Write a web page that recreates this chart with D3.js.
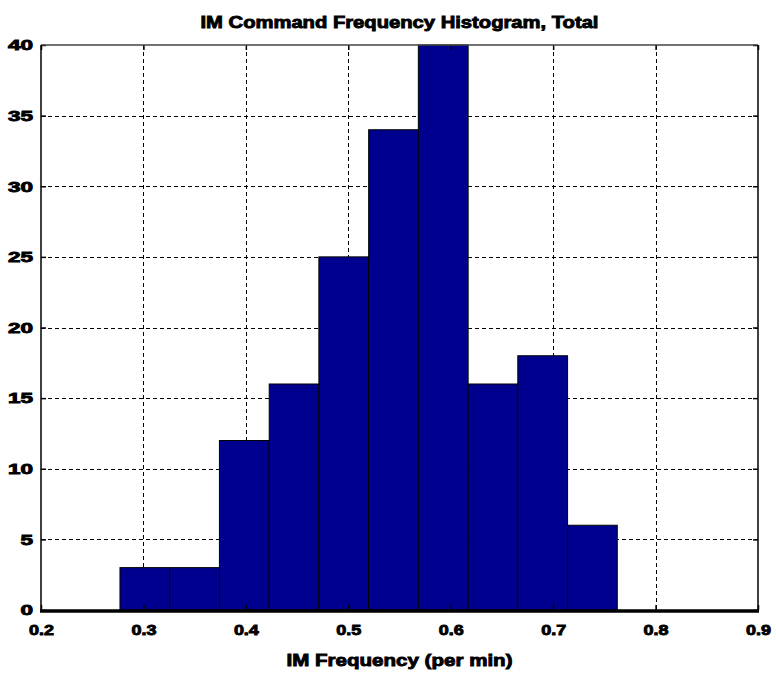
<!DOCTYPE html>
<html>
<head>
<meta charset="utf-8">
<script src="https://cdn.jsdelivr.net/npm/d3@7"></script>
<style>
  html, body { margin: 0; padding: 0; background: #fff; }
  svg text { font-family: "Liberation Sans", Arial, Helvetica, sans-serif; font-weight: bold; fill: #000;
             stroke: #000; stroke-width: 0.9px; }
</style>
</head>
<body>
<svg id="chart" width="776" height="675"></svg>
<script>
// Histogram bin edges (per-minute frequency) and the count in each bin
const binEdges = [0.2771, 0.3257, 0.3742, 0.4228, 0.4713, 0.5199, 0.5684, 0.6170, 0.6655, 0.7141, 0.7626];
const counts   = [3, 3, 12, 16, 25, 34, 40, 16, 18, 6];
const xTicks   = [0.2, 0.3, 0.4, 0.5, 0.6, 0.7, 0.8, 0.9];
const yTicks   = [0, 5, 10, 15, 20, 25, 30, 35, 40];
const titleText = "IM Command Frequency Histogram, Total";
const xLabelText = "IM Frequency (per min)";

const bins = counts.map((c, i) => ({ x0: binEdges[i], x1: binEdges[i + 1], count: c }));

const margin = { left: 41, right: 18, top: 45, bottom: 65 };
const W = 776, H = 675;
const svg = d3.select("#chart");

const x = d3.scaleLinear().domain([0.2, 0.9]).range([margin.left, W - margin.right]);
const y = d3.scaleLinear().domain([0, 40]).range([H - margin.bottom, margin.top]);

// dashed grid
const grid = svg.append("g").attr("stroke", "#000").attr("stroke-width", 1).attr("stroke-dasharray", "4,3");
grid.selectAll("line.v").data(xTicks.slice(1, -1)).join("line")
  .attr("x1", d => Math.round(x(d)) + 0.5).attr("x2", d => Math.round(x(d)) + 0.5)
  .attr("y1", y(40)).attr("y2", y(0));
grid.selectAll("line.h").data(yTicks.slice(1, -1)).join("line")
  .attr("x1", x(0.2)).attr("x2", x(0.9))
  .attr("y1", d => Math.round(y(d)) + 0.5).attr("y2", d => Math.round(y(d)) + 0.5);

// bars
svg.append("g").selectAll("rect").data(bins).join("rect")
  .attr("x", d => x(d.x0)).attr("width", d => x(d.x1) - x(d.x0))
  .attr("y", d => y(d.count)).attr("height", d => y(0) - y(d.count))
  .attr("fill", "#00008f").attr("stroke", "#000").attr("stroke-width", 1);

// axes (ticks point inward, as a boxed plot)
const tickLen = 5;
const xAxis = d3.axisBottom(x).tickValues(xTicks).tickSize(-tickLen).tickPadding(14).tickFormat(d3.format(".1f"));
const yAxis = d3.axisLeft(y).tickValues(yTicks).tickSize(-tickLen).tickPadding(8).tickFormat(d3.format("d"));

const gx = svg.append("g").attr("transform", `translate(0,${y(0)})`).call(xAxis);
const gy = svg.append("g").attr("transform", `translate(${x(0.2)},0)`).call(yAxis);
const gxTop = svg.append("g").attr("transform", `translate(0,${y(40)})`)
  .call(d3.axisTop(x).tickValues(xTicks).tickSize(-tickLen).tickFormat(""));
const gyRight = svg.append("g").attr("transform", `translate(${x(0.9)},0)`)
  .call(d3.axisRight(y).tickValues(yTicks).tickSize(-tickLen).tickFormat(""));

[gx, gy, gxTop, gyRight].forEach(g => {
  g.select(".domain").remove();
  g.selectAll(".tick line").attr("stroke", "#000").attr("stroke-width", 1.5);
  g.selectAll("text").attr("font-size", 15).attr("fill", "#000");
});
gy.selectAll("text").attr("textLength", d => String(d).length * 12.5).attr("lengthAdjust", "spacingAndGlyphs");
gx.selectAll("text").attr("textLength", 25).attr("lengthAdjust", "spacingAndGlyphs");

// box
svg.append("line").attr("x1", x(0.2)).attr("x2", x(0.9)).attr("y1", y(40)).attr("y2", y(40))
  .attr("stroke", "#444").attr("stroke-width", 1.5);
svg.append("line").attr("x1", x(0.2)).attr("x2", x(0.2)).attr("y1", y(40)).attr("y2", y(0))
  .attr("stroke", "#000").attr("stroke-width", 1.5);
svg.append("line").attr("x1", x(0.9)).attr("x2", x(0.9)).attr("y1", y(40)).attr("y2", y(0))
  .attr("stroke", "#000").attr("stroke-width", 1.5);
svg.append("line").attr("x1", x(0.2) - 1).attr("x2", x(0.9) + 1).attr("y1", y(0) + 1).attr("y2", y(0) + 1)
  .attr("stroke", "#000").attr("stroke-width", 3.5);

// title and axis label
svg.append("text").attr("x", (x(0.2) + x(0.9)) / 2).attr("y", 28)
  .attr("text-anchor", "middle").attr("font-size", 17)
  .attr("textLength", 398).attr("lengthAdjust", "spacingAndGlyphs").text(titleText);
svg.append("text").attr("x", (x(0.2) + x(0.9)) / 2).attr("y", 666)
  .attr("text-anchor", "middle").attr("font-size", 17)
  .attr("textLength", 226).attr("lengthAdjust", "spacingAndGlyphs").text(xLabelText);
</script>
</body>
</html>
